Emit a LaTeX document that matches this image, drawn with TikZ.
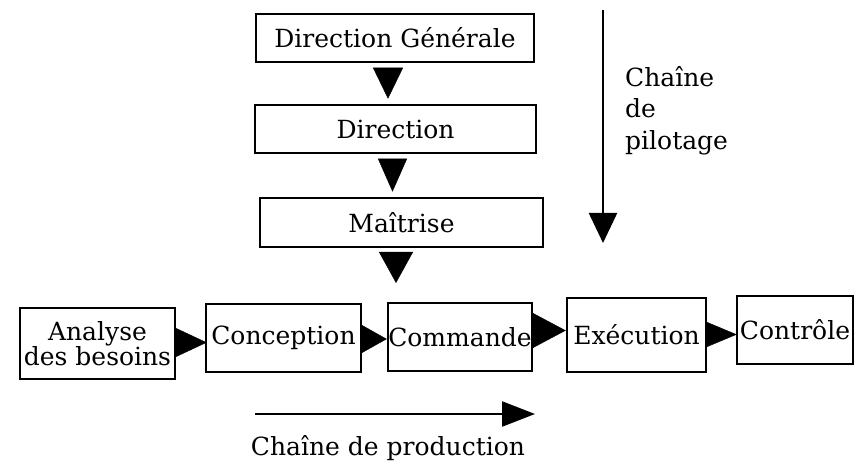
\documentclass[tikz,border=0pt]{standalone}
\usepackage{fontspec}
\setmainfont{DejaVu Serif}
\usetikzlibrary{arrows.meta}
\begin{document}
\begin{tikzpicture}[x=1pt,y=-1pt,
  txt/.style={font=\fontsize{25}{25}\selectfont},
  box/.style={txt, draw, line width=2.5pt, inner sep=0pt, align=center},
  tri/.style 2 args={line width=0.4pt, -{Triangle[length=#1,width=#2]}},
  chain/.style 2 args={line width=2.4pt, -{Triangle[length=#1,width=#2]}}]
\useasboundingbox (0,0) rectangle (856,462);

% management (piloting) chain
\node[box, minimum width=278pt, minimum height=48pt] (dg)  at (395,38)    {Direction Générale};
\node[box, minimum width=281pt, minimum height=48pt] (dir) at (395.5,129) {Direction};
\node[box, minimum width=283pt, minimum height=49pt] (mai) at (401.5,222.5) {Maîtrise};

% production chain
\node[box, minimum width=155pt, minimum height=71pt] (ana) at (97.5,343.5) {Analyse\\des besoins};
\node[box, minimum width=155pt, minimum height=68pt] (con) at (283.5,338) {Conception};
\node[box, minimum width=144pt, minimum height=68pt] (com) at (460,337)   {Commande};
\node[box, minimum width=139pt, minimum height=74pt] (exe) at (636.5,335) {Exécution};
\node[box, minimum width=116pt, minimum height=68pt] (ctl) at (795,330) {Contrôle};

% vertical links
\draw[tri={31pt}{30pt}, shorten <=5pt, shorten >=5pt]
  ([xshift=-7pt]dg.south) -- ([xshift=-7.5pt]dir.north);
\draw[tri={33pt}{29pt}, shorten <=5pt, shorten >=5pt]
  ([xshift=-3pt]dir.south) -- ([xshift=-9pt]mai.north);
\coordinate (mend) at (396,283);
\draw[tri={31pt}{34pt}, shorten <=4pt]
  ([xshift=-5.5pt]mai.south) -- (mend);

% horizontal links
\draw[tri={31pt}{29pt}, shorten >=-2pt]
  ([yshift=1pt]ana.east) -- ([yshift=-4.5pt]con.west);
\draw[tri={25pt}{28pt}]
  ([yshift=-1pt]con.east) -- ([yshift=-2pt]com.west);
\draw[tri={33pt}{35pt}]
  ([yshift=6.5pt]com.east) -- ([yshift=4.5pt]exe.west);
\draw[tri={30pt}{25pt}, shorten >=-1pt]
  ([yshift=0.5pt]exe.east) -- ([yshift=-4.5pt]ctl.west);

% piloting direction
\coordinate (ptop) at (603,10);
\coordinate (pbot) at (603,243);
\draw[chain={30pt}{28pt}] (ptop) -- (pbot);
\node[txt, anchor=base west, inner sep=0pt] (pl1) at (625,87)  {Chaîne};
\node[txt, anchor=base west, inner sep=0pt] (pl2) at (625,118) {de};
\node[txt, anchor=base west, inner sep=0pt] (pl3) at (625,150) {pilotage};

% production direction
\coordinate (pstart) at (255,414);
\coordinate (pend)   at (535,414);
\draw[chain={33pt}{25pt}] (pstart) -- (pend);
\node[txt, anchor=base, inner sep=0pt] (prod) at (388,455) {Chaîne de production};
\end{tikzpicture}
\end{document}
